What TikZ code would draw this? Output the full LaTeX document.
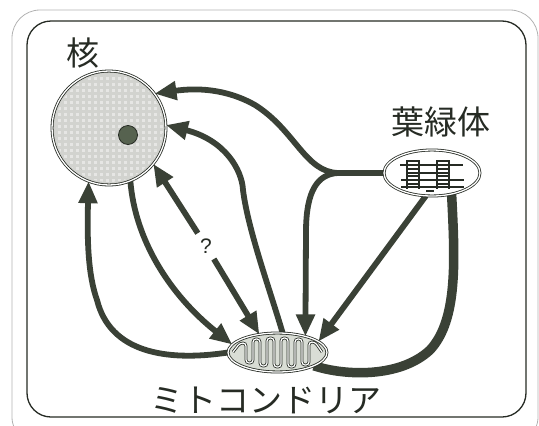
\documentclass[tikz,border=0pt]{standalone}
\usepackage{fontspec}
\newfontfamily\jpfont{Noto Sans CJK JP}
\newfontfamily\qfont{Liberation Sans}
\usetikzlibrary{arrows.meta,shapes.geometric,backgrounds}
\definecolor{ink}{HTML}{3A4136}
\definecolor{inkdark}{HTML}{262B24}
\definecolor{nucfill}{HTML}{D2D3CF}
\definecolor{mitofill}{HTML}{D9DDD5}
\definecolor{nucleolusfill}{HTML}{56624F}
\begin{document}
\begin{tikzpicture}[x=1pt,y=-1pt,
  organelle/.style={draw=inkdark, double=white, double distance=1.3pt, line width=0.8pt, inner sep=0pt, outer sep=0pt},
  flow/.style={draw=ink, line width=5.8pt, line join=round, -{Triangle[length=22pt,width=18pt]}},
  trunk/.style={draw=ink, line width=5.8pt, line join=round},
  band/.style={draw=ink, line width=9.5pt, line join=round},
  lab/.style={font=\jpfont\fontsize{33}{36}\selectfont, text=inkdark, inner sep=0pt},
  qmark/.style={circle, minimum size=30pt, inner sep=0pt, font=\qfont\fontsize{21}{24}\selectfont, text=inkdark},
  thyl/.style={draw=inkdark, line width=2.2pt},
  crista/.style={draw=inkdark, double=white, double distance=1.2pt, line width=0.8pt, rounded corners=3pt}
]
\clip (0,0) rectangle (539,426);
\useasboundingbox (0,0) rectangle (539,426);

% organelles
\node[organelle, circle, minimum size=114pt, fill=nucfill] (nuc) at (109,128) {};
% screen-tone texture of the nucleus
\begin{scope}
  \clip (109,128) circle (54pt);
  \foreach \tx in {52,58,...,166}
    \foreach \ty in {71,77,...,185}
      \fill[white, opacity=0.45] (\tx,\ty) rectangle ++(3,3);
\end{scope}
\node[circle, minimum size=19pt, fill=nucleolusfill, draw=inkdark, line width=0.8pt] (nucleolus) at (128,135) {};
\node[organelle, ellipse, minimum width=96pt, minimum height=46pt, fill=white] (chl) at (432,173) {};
\node[organelle, ellipse, minimum width=99pt, minimum height=39pt, fill=mitofill] (mito) at (277.5,352.5) {};

% thylakoid lamellae and grana
\draw[thyl] (400,165) -- (463,165);
\draw[thyl] (401,180) -- (464,180);
\draw[thyl] (401,187) -- (464,187);
\draw[thyl] (418,173) -- (438,173);
\foreach \gx in {407,437}{
  \foreach \gy in {161,169,173,176,184}
    \draw[line width=2pt, inkdark] (\gx,\gy) -- (\gx+12,\gy);
  \draw[line width=1.4pt, inkdark] (\gx,160) -- (\gx,189);
  \draw[line width=1.4pt, inkdark] (\gx+12,160) -- (\gx+12,189);
}
\draw[line width=2pt, inkdark] (426,191) -- (434,191);

% folded inner membrane
\draw[crista] (233,352) -- (240,343) -- (246,343) -- (246,363) -- (253,363) -- (253,339)
  -- (260,339) -- (260,366) -- (267,366) -- (267,338) -- (274,338) -- (274,367)
  -- (281,367) -- (281,338) -- (288,338) -- (288,367) -- (295,367) -- (295,339)
  -- (302,339) -- (302,365) -- (309,365) -- (309,342) -- (315,342) -- (322,352);

% labels
\node[lab] (lnuc) at (83,53) {核};
\node[lab] (lchl) at (441,122) {葉緑体};
\node[lab] (lmit) at (266,400) {ミトコンドリア};
\node[qmark] (q) at (206,246) {?};

\begin{scope}[on background layer]
  % frame
  \draw[gray!60, line width=0.8pt, rounded corners=28pt] (12,10) rectangle (538,445);
  \draw[inkdark, line width=1.3pt, rounded corners=24pt] (27,21) rectangle (526,417);

  % connectors
  \coordinate (J) at (338,173);
  \draw[trunk] (chl.west) -- (J);
  \draw[flow] (J) .. controls (305,172) and (295,130) .. (255,105)
              .. controls (225,88) and (195,88) .. (nuc.37);
  \draw[flow] (J) .. controls (318,174) and (306,190) .. (306,232) -- (mito.30);
  \draw[flow] (chl.-105) -- (mito.15);
  \draw[band] (chl.-47) .. controls (455,260) and (458,320) .. (430,350)
              .. controls (400,378) and (345,376) .. (mito.-20);
  \draw[flow] (mito.west) .. controls (165,362) and (110,352) .. (97,300)
              .. controls (88,275) and (87,240) .. (nuc.-111);
  \draw[flow] (nuc.-68) .. controls (135,240) and (170,295) .. (mito.170);
  \draw[flow] (mito.75) .. controls (270,290) and (248,230) .. (243,190)
              .. controls (242,170) and (225,140) .. (nuc.3);
  \draw[flow] (q) -- (nuc.-39);
  \draw[flow] (q) -- (mito.135);
\end{scope}
\end{tikzpicture}
\end{document}
